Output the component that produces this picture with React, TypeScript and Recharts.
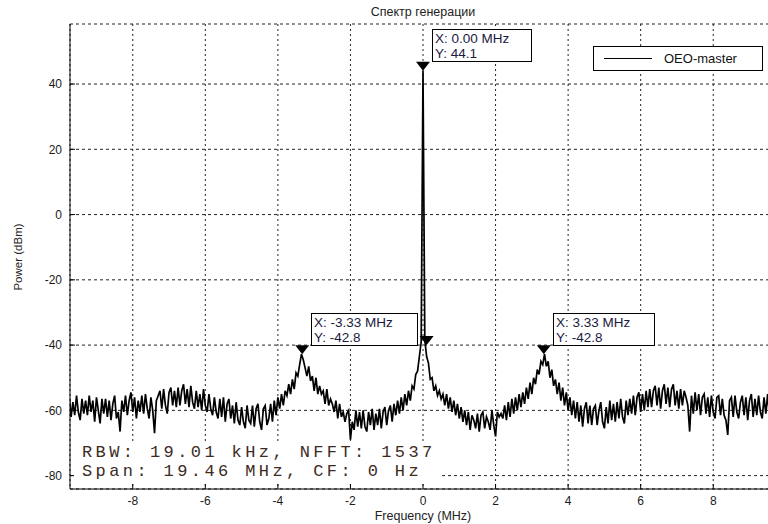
import React from 'react';
import { ComposedChart, Line, XAxis, YAxis, CartesianGrid, ReferenceDot } from 'recharts';

// frequency bins (MHz): -9.75 .. 9.75, 0.05 MHz apart
const F_START = -9.75;
const F_STEP = 0.05;

// power (dBm), 10 bins per row
const FLOOR_LEFT = [
  -56, -62, -57.5, -61.5, -55.5, -60.5, -63, -56.5, -61, -57,
  -61.5, -55.5, -60.5, -57, -63.5, -56, -60, -64, -56.5, -61,
  -56.5, -62, -57, -63, -58, -55.5, -62.5, -60.5, -66.5, -57,
  -60.5, -55.5, -61.5, -57, -54.5, -60.5, -56, -62.5, -57, -60.5,
  -55.5, -61, -55, -59.5, -62.5, -56, -60, -67, -57, -55.5,
  -54, -59.5, -53.5, -58.5, -61, -54.5, -53, -58.5, -54, -59,
  -53, -58.5, -54, -52, -58, -53.5, -59, -52.5, -57.5, -59.5,
  -54, -59, -55, -60, -53.5, -58.5, -60.5, -55, -59.5, -61.5,
  -56, -60.5, -62.5, -56.5, -62, -56, -63.5, -58, -56.5, -62.5,
  -58.5, -64, -57.5, -63, -64.5, -59, -63.5, -65.5, -58.5, -63,
  -64, -58.5, -65, -59.5, -58, -63.5, -66, -59.5, -58.5, -64.5,
];
const SIDEBAND_LEFT = [
  -62.5, -58, -63.5, -57, -61.5, -56, -59.5, -55, -58.5, -54,
  -55.5, -52, -55, -50.5, -53.5, -48.5, -49.5, -46, -42.8, -44.5,
  -47, -49.5, -46.5, -51, -49.5, -54, -50, -55, -52.5, -55,
  -54, -58, -53.5, -58.5, -56.5, -58, -60.5, -57, -62.5, -58,
  -62, -60.5, -63.5, -61, -60, -69, -63.5, -66, -60, -65,
];
const CARRIER = [
  -60.5, -65.5, -60, -65, -66.5, -60.5, -64.5, -59.5, -66, -61,
  -64.5, -59.5, -65.5, -60.5, -59, -64.5, -60, -58.5, -63.5, -58,
  -61.5, -57, -61, -56, -60, -55, -58.5, -54, -57, -52.5,
  -53.5, -49, -48, -43.5, -39, 44.1, -38.5, -43.5, -45.5, -50.5,
  -50, -54, -52.5, -55.5, -54, -56.5, -55, -58.5, -55, -59.5,
  -56, -60.5, -57, -61.5, -58, -62.5, -59, -63.5, -60, -64.5,
  -60.5, -66, -61.5, -63, -65.5, -61, -66.5, -61.5, -60.5, -65.5,
];
const SIDEBAND_RIGHT = [
  -62, -63.5, -66, -60, -64.5, -68, -60.5, -62, -61, -62.5,
  -58.5, -63, -57.5, -62, -56.5, -61, -56, -60, -55, -59,
  -54.5, -58, -53, -56.5, -51.5, -55, -50, -52, -47.5, -49,
  -45, -46, -42.8, -46.5, -45, -50, -47.5, -52.5, -50.5, -55,
  -51.5, -57, -53, -58.5, -54.5, -60, -56, -61.5, -57, -62.5,
];
const FLOOR_RIGHT = [
  -57.5, -63.5, -58.5, -65, -59.5, -57.5, -64, -58.5, -64.5, -59.5,
  -58.5, -64.5, -60, -57.5, -63.5, -65.5, -59, -64, -57, -63,
  -58, -63.5, -57.5, -62.5, -56.5, -62, -64, -57, -61.5, -56.5,
  -61, -55.5, -61.5, -56, -54.5, -60.5, -55, -60, -54, -59,
  -53.5, -59, -54, -52.5, -58.5, -53, -59.5, -54, -52, -58,
  -53, -59, -53.5, -52, -58.5, -54, -59.5, -53.5, -58.5, -54,
  -56, -58.5, -66.5, -55.5, -61, -54.5, -60, -55, -61.5, -56,
  -55, -61, -56, -62, -55.5, -60.5, -62.5, -56, -55.5, -61.5,
  -56.5, -61.5, -63, -67.5, -57, -56, -62, -55.5, -60.5, -62.5,
  -57.5, -55.5, -61.5, -56, -63, -57, -55, -62, -56.5, -61.5,
  -55.5, -60.5, -62.5, -56, -61, -55, -61.5, -56.5, -62, -57,
  -60,
];

const POWER = [...FLOOR_LEFT, ...SIDEBAND_LEFT, ...CARRIER, ...SIDEBAND_RIGHT, ...FLOOR_RIGHT];
const data = POWER.map((p, i) => ({ f: Math.round((F_START + i * F_STEP) * 100) / 100, p }));

const X_TICKS = [-8, -6, -4, -2, 0, 2, 4, 6, 8];
const Y_TICKS = [-80, -60, -40, -20, 0, 20, 40];
const X_DOMAIN: [number, number] = [-9.73, 9.73];
const Y_DOMAIN: [number, number] = [-84.1, 58.4];

// data tip markers (MHz, dBm)
const MARKERS = [
  { f: 0, p: 44.1 },
  { f: -3.33, p: -42.8 },
  { f: 3.33, p: -42.8 },
  { f: 0.1, p: -40 },
];
const TIPS = [
  { x: '0.00', y: '44.1', left: 432, top: 29, w: 100 },
  { x: '-3.33', y: '-42.8', left: 311, top: 313, w: 107 },
  { x: '3.33', y: '-42.8', left: 553, top: 313, w: 102 },
];

const SANS = 'Arial, "Liberation Sans", Helvetica, sans-serif';

const Triangle = (props: any) => {
  const { cx, cy } = props;
  return <path d={`M${cx - 7},${cy - 9} L${cx + 7},${cy - 9} L${cx},${cy} Z`} fill="#000" />;
};

export default function App() {
  const tickStyle = { fontSize: 12, fill: '#1a1a1a', fontFamily: SANS };
  return (
    <div style={{ position: 'absolute', left: 0, top: 0, width: 768, height: 524, overflow: 'hidden', background: '#fff', fontFamily: SANS }}>
      <ComposedChart width={790} height={524} data={data} margin={{ top: 24, right: 14, bottom: 5, left: 25 }}>
        <CartesianGrid horizontal={false} stroke="#222" strokeDasharray="2 3" />
        <CartesianGrid vertical={false} stroke="#222" strokeDasharray="3 3" />
        <XAxis
          dataKey="f"
          type="number"
          domain={X_DOMAIN}
          ticks={X_TICKS}
          allowDataOverflow
          height={30}
          tickSize={-5}
          tickMargin={12}
          tick={tickStyle}
          stroke="#000"
        />
        <XAxis xAxisId="top" orientation="top" type="number" domain={X_DOMAIN} height={0} tick={false} tickLine={false} stroke="#000" />
        <YAxis
          type="number"
          domain={Y_DOMAIN}
          ticks={Y_TICKS}
          allowDataOverflow
          width={45}
          tickSize={-5}
          tickMargin={13}
          tick={tickStyle}
          stroke="#000"
        />
        <Line dataKey="p" stroke="#000" strokeWidth={1.7} dot={false} isAnimationActive={false} />
        {MARKERS.map((m, i) => (
          <ReferenceDot key={i} x={m.f} y={m.p} r={5} shape={Triangle} />
        ))}
      </ComposedChart>

      <div style={{ position: 'absolute', left: 0, width: 846, top: 5, textAlign: 'center', fontSize: 12.5, color: '#222' }}>
        Спектр генерации
      </div>
      <div style={{ position: 'absolute', left: 0, width: 846, top: 509, textAlign: 'center', fontSize: 12.5, lineHeight: '14px', color: '#222' }}>
        Frequency (MHz)
      </div>
      <div style={{ position: 'absolute', left: 18, top: 257, transform: 'translate(-50%, -50%) rotate(-90deg)', whiteSpace: 'nowrap', fontSize: 11.5, color: '#222' }}>
        Power (dBm)
      </div>

      {TIPS.map((t, i) => (
        <div key={i} style={{ position: 'absolute', left: t.left, top: t.top, width: t.w, height: 33, boxSizing: 'border-box', border: '1px solid #000', background: '#fff', fontSize: 13.5, lineHeight: '15px', color: '#1a1a40', padding: '1px 0 0 2px' }}>
          <div>X: {t.x} MHz</div>
          <div>Y: {t.y}</div>
        </div>
      ))}

      <div style={{ position: 'absolute', left: 593, top: 46, width: 170, height: 25, boxSizing: 'border-box', border: '1px solid #000', background: '#fff' }}>
        <div style={{ position: 'absolute', left: 10, top: 11, width: 48, borderTop: '1px solid #000' }} />
        <div style={{ position: 'absolute', left: 70, top: 4, fontSize: 13, color: '#111' }}>OEO-master</div>
      </div>

      <div style={{ position: 'absolute', left: 74, top: 443, width: 366, height: 40, background: '#fff', fontFamily: '"Courier New", "Liberation Mono", monospace', fontSize: 17, letterSpacing: 3.4, lineHeight: '19px', color: '#3d2b1f', paddingLeft: 8, boxSizing: 'border-box', whiteSpace: 'nowrap', overflow: 'hidden' }}>
        <div>RBW: 19.01 kHz, NFFT: 1537</div>
        <div>Span: 19.46 MHz, CF: 0 Hz</div>
      </div>
    </div>
  );
}
